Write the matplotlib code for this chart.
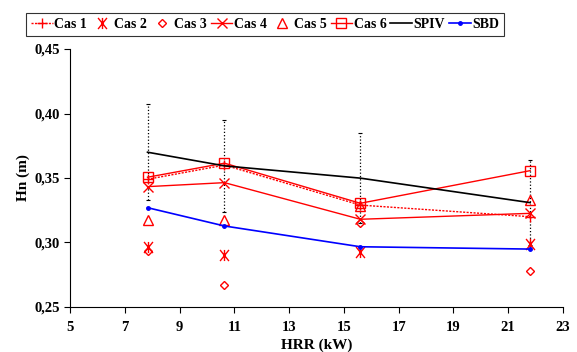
import matplotlib
matplotlib.use("Agg")
import matplotlib.pyplot as plt
from matplotlib.path import Path
from matplotlib.ticker import FuncFormatter, MultipleLocator

hrr = [7.83, 10.64, 15.6, 21.8]
cas1 = [0.349, 0.360, 0.329, 0.320]
cas2 = [0.2962, 0.2904, 0.2928, 0.2988]
cas3 = [0.2935, 0.2671, 0.3149, 0.2780]
cas4 = [0.3433, 0.3464, 0.3180, 0.3226]
cas5 = [0.3174, 0.3174, 0.3280, 0.3330]
cas6 = [0.3506, 0.3615, 0.3304, 0.3557]
spiv = [0.370, 0.3594, 0.3499, 0.3309]
spiv_err = [0.037, 0.0355, 0.035, 0.033]
sbd = [0.327, 0.3128, 0.2967, 0.2949]
xticks = [5, 7, 9, 11, 13, 15, 17, 19, 21, 23]

plt.rcParams['font.family'] = ['Liberation Serif', 'DejaVu Serif']
plt.rcParams['font.weight'] = 'bold'

fig = plt.figure(figsize=(5.77, 3.52), dpi=100)
ax = fig.add_axes([70/577, 1 - 307/352, (563-70)/577, (307-49)/352])

star = Path([(0, -0.75), (0, 0.75), (-0.6, -0.75), (0.6, 0.75), (-0.6, 0.75), (0.6, -0.75)],
            [Path.MOVETO, Path.LINETO, Path.MOVETO, Path.LINETO, Path.MOVETO, Path.LINETO])

red = '#ff0000'
eb = ax.errorbar(hrr, spiv, yerr=spiv_err, fmt='none', ecolor='black', elinewidth=0.9,
                 capsize=1.5, capthick=0.8, zorder=1)
eb[2][0].set_linestyle(':')

l1, = ax.plot(hrr, cas1, color=red, linestyle=(0, (1.5, 1)), lw=1.0, marker='+', ms=7, mew=1.0, label='Cas 1')
l2, = ax.plot(hrr, cas2, linestyle='none', marker=star, ms=8, mec=red, mfc='none', mew=1.0, label='Cas 2')
l3, = ax.plot(hrr, cas3, linestyle='none', marker='D', ms=4.5, mec=red, mfc='none', mew=1.0, label='Cas 3')
l4, = ax.plot(hrr, cas4, color=red, lw=1.0, marker='x', ms=6.5, mew=1.0, label='Cas 4')
l5, = ax.plot(hrr, cas5, linestyle='none', marker='^', ms=7, mec=red, mfc='none', mew=1.0, label='Cas 5')
l6, = ax.plot(hrr, cas6, color=red, lw=1.0, marker='s', ms=7, mec=red, mfc='none', mew=1.0, label='Cas 6')
l7, = ax.plot(hrr, spiv, color='black', lw=1.2, label='SPIV')
l8, = ax.plot(hrr, sbd, color='#0000ff', lw=1.2, marker='o', ms=2.5, label='SBD')

ax.set_xlim(5, 23)
ax.set_ylim(0.25, 0.45)
ax.set_xticks(xticks)
ax.yaxis.set_major_locator(MultipleLocator(0.05))
ax.yaxis.set_major_formatter(FuncFormatter(lambda v, p: f"{v:.2f}".replace('.', ',')))
ax.spines['top'].set_visible(False)
ax.spines['right'].set_visible(False)
ax.tick_params(direction='out', length=4, width=0.8, labelsize=10.5)
ax.tick_params(axis='x', pad=6)
for lab in ax.get_xticklabels() + ax.get_yticklabels():
    lab.set_fontweight('bold')
ax.set_xlabel('HRR (kW)', fontsize=11, fontweight='bold', labelpad=3)
ax.set_ylabel('Hn (m)', fontsize=11, fontweight='bold', labelpad=3)

leg = fig.legend(handles=[l1, l2, l3, l4, l5, l6, l7, l8], loc='center',
                 bbox_to_anchor=(265/577, 1 - 24.5/352), ncol=8, frameon=True,
                 fancybox=False, edgecolor='black', handlelength=1.55,
                 handletextpad=0.1, columnspacing=0.3, borderpad=0.35, borderaxespad=0,
                 prop={'weight': 'bold', 'size': 10})
leg.get_frame().set_linewidth(0.8)

fig.savefig('out.png', dpi=100)
